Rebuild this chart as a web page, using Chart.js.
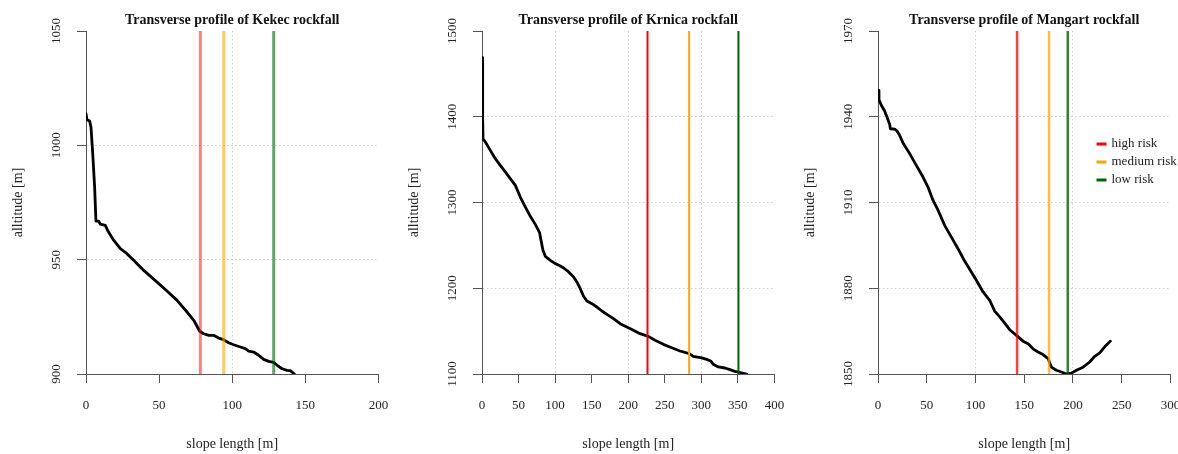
<!DOCTYPE html>
<html>
<head>
<meta charset="utf-8">
<script src="https://cdn.jsdelivr.net/npm/chart.js@4.4.1/dist/chart.umd.min.js"></script>
<style>
html, body { margin: 0; padding: 0; background: #fff; width: 1178px; height: 454px; overflow: hidden; }
.p { position: absolute; top: 0; width: 396px; height: 454px; }
canvas { display: block; }
</style>
</head>
<body>
<div class="p" style="left:0px"><canvas id="c1" width="396" height="454"></canvas></div>
<div class="p" style="left:396px"><canvas id="c2" width="396" height="454"></canvas></div>
<div class="p" style="left:792px"><canvas id="c3" width="396" height="454"></canvas></div>
<script>
// ---------- data ----------
const kekecX = [0, 0.7, 2.5, 3.4, 4.6, 5.9, 6.8, 8.7, 9.8, 13.2, 14.8, 18.9, 23.5, 28, 32.6, 39.5, 48.6, 55.4, 62.3, 69.1, 73.7, 77.8, 80.5, 84, 87.3, 90.8, 94.1, 97.6, 101, 105.6, 109, 111.3, 114.7, 118.1, 121.5, 125, 128.4, 130.7, 134.1, 137.5, 139.8, 142.5];
const kekecY = [1013.8, 1011.2, 1010.6, 1008, 996.4, 981.8, 966.9, 966.8, 965.5, 965, 962.8, 958.5, 954.8, 952.6, 949.7, 945.3, 940.2, 936.3, 932.2, 927.1, 923.5, 918.7, 917.6, 916.9, 916.9, 915.7, 915, 913.7, 912.8, 911.8, 911.1, 910, 909.6, 908.2, 906.4, 905.5, 905.1, 903.8, 902.3, 901.6, 901.5, 900];
const kekecRisk = [78.2, 94.2, 128.4];
const kekecXTicks = [0, 50, 100, 150, 200];
const kekecYTicks = [900, 950, 1000, 1050];

const krnicaX = [0, 0.9, 1.4, 4.6, 11.4, 18.2, 25, 31.9, 38.7, 45.6, 52.4, 59.2, 66.1, 72.9, 78.8, 80.7, 83.4, 86.6, 93.5, 100.3, 107.2, 111.7, 118.5, 125.3, 129.8, 134.4, 138.9, 143.5, 150.3, 157.2, 164, 170.8, 179.9, 189, 198.1, 207.2, 216.2, 227.6, 236.7, 248.1, 259.5, 270.8, 283.6, 289, 300.5, 307.3, 312.8, 316.4, 323.2, 332.3, 339.2, 346, 350.6, 362];
const krnicaY = [1468.9, 1399.7, 1374.4, 1370.6, 1360.8, 1351.1, 1343.3, 1335.6, 1327.8, 1320, 1306.4, 1294.8, 1283.9, 1274.5, 1264.8, 1255.9, 1244.2, 1237.2, 1232.6, 1228.7, 1226, 1223.6, 1219, 1213.1, 1207.3, 1199.5, 1190.6, 1185.1, 1182, 1178.1, 1173.5, 1169.6, 1164.5, 1158.7, 1154.8, 1150.9, 1147, 1143.9, 1139.3, 1134.6, 1130.7, 1126.8, 1123.7, 1120.6, 1118.7, 1117.1, 1115.2, 1111.3, 1108.2, 1107.0, 1105.1, 1103.1, 1102.3, 1100];
const krnicaRisk = [226.4, 283.4, 350.8];
const krnicaXTicks = [0, 50, 100, 150, 200, 250, 300, 350, 400];
const krnicaYTicks = [1100, 1200, 1300, 1400, 1500];

const mangartX = [0, 1, 3.4, 6.8, 9.2, 12, 12.7, 17.1, 19.5, 22.2, 25.7, 32.5, 39.3, 46.2, 51.3, 56.4, 61.6, 68.4, 75.3, 82.1, 88.9, 95.8, 100.9, 107.8, 114.6, 119.7, 124.9, 130, 135.1, 142, 148.8, 154, 159.1, 164.2, 169.3, 174.5, 177.9, 183, 188.2, 193.3, 198.4, 203.6, 210.4, 217.2, 222.4, 227.5, 232.6, 238.4];
const mangartY = [1949.2, 1946, 1944, 1942, 1939.9, 1937.3, 1935.8, 1935.7, 1935, 1933.5, 1930.8, 1927.1, 1923, 1918.9, 1915.4, 1910.8, 1907.3, 1902, 1897.9, 1893.8, 1889.5, 1885.7, 1882.8, 1878.7, 1875.8, 1872, 1870, 1867.8, 1865.5, 1863.5, 1861.5, 1860.6, 1858.8, 1857.7, 1856.8, 1855.4, 1852.4, 1851.3, 1850.7, 1850, 1850.3, 1851.3, 1852.4, 1854.2, 1856.2, 1857.4, 1859.5, 1861.5];
const mangartRisk = [142.7, 175.5, 194.7];
const mangartXTicks = [0, 50, 100, 150, 200, 250, 300];
const mangartYTicks = [1850, 1880, 1910, 1940, 1970];

const riskNames = ['high risk', 'medium risk', 'low risk'];
const legendColors = ['#ff0000', '#ffa500', '#006400'];

// ---------- helpers ----------
const SERIF = '"Liberation Serif", "DejaVu Serif", serif';
const AXIS = '#555';
const GRID = '#cfcfcf';

const decor = {
  id: 'decor',
  afterDraw(chart, args, opts) {
    const ctx = chart.ctx, a = chart.chartArea, ys = chart.scales.y;
    ctx.save();
    ctx.fillStyle = '#111';
    ctx.textAlign = 'center';
    ctx.textBaseline = 'middle';
    ctx.font = 'bold 14px ' + SERIF;
    ctx.fillText(opts.title, (a.left + a.right) / 2, 20);
    ctx.font = '13px ' + SERIF;
    ctx.fillStyle = '#222';
    ys.ticks.forEach(t => {
      const py = ys.getPixelForValue(t.value);
      ctx.save();
      ctx.translate(a.left - 29, py);
      ctx.rotate(-Math.PI / 2);
      ctx.fillText(String(t.value), 0, 0);
      ctx.restore();
    });
    if (opts.legend) {
      const x0 = 304.5, y0 = 144, dy = 18;
      ctx.textAlign = 'left';
      riskNames.forEach((n, i) => {
        const y = y0 + i * dy;
        ctx.strokeStyle = legendColors[i];
        ctx.lineWidth = 3;
        ctx.beginPath();
        ctx.moveTo(x0, y);
        ctx.lineTo(x0 + 10, y);
        ctx.stroke();
        ctx.fillStyle = '#222';
        ctx.fillText(n, x0 + 15, y);
      });
    }
    ctx.restore();
  }
};

function makeChart(id, title, xs, ys, risk, riskColors, riskWidth, xTicks, yTicks, legend) {
  const xMin = xTicks[0], xMax = xTicks[xTicks.length - 1];
  const yMin = yTicks[0], yMax = yTicks[yTicks.length - 1];
  const riskSets = risk.map((v, i) => ({
    label: riskNames[i],
    data: [{x: v, y: yMin}, {x: v, y: yMax}],
    borderColor: riskColors[i],
    borderWidth: riskWidth,
    pointRadius: 0,
    fill: false
  }));
  const profile = {
    label: 'profile',
    data: xs.map((x, i) => ({x: x, y: ys[i]})),
    borderColor: '#000',
    borderWidth: 2.8,
    pointRadius: 0,
    tension: 0,
    fill: false,
    borderJoinStyle: 'round',
    borderCapStyle: 'round'
  };
  return new Chart(document.getElementById(id), {
    type: 'line',
    data: { datasets: riskSets.concat([profile]) },
    options: {
      responsive: false,
      animation: false,
      events: [],
      layout: { padding: { top: 31, right: 17.6, bottom: 0, left: 0 } },
      plugins: {
        legend: { display: false },
        tooltip: { enabled: false },
        decor: { title: title, legend: legend }
      },
      scales: {
        x: {
          type: 'linear',
          min: xMin, max: xMax,
          afterBuildTicks: s => { s.ticks = xTicks.map(v => ({value: v})); },
          afterFit: s => { s.height = 80; s.paddingLeft = 0; s.paddingRight = 0; },
          border: { display: true, color: AXIS, width: 1, dash: [1.5, 2.5] },
          grid: {
            color: c => (c.tick && c.tick.value > xMin && c.tick.value < xMax && c.tick.value % 100 === 0) ? GRID : 'rgba(0,0,0,0)',
            tickColor: AXIS,
            tickLength: 9,
            lineWidth: 1
          },
          ticks: {
            color: '#222',
            font: { family: SERIF, size: 13 },
            padding: 15,
            maxRotation: 0,
            autoSkip: false,
            callback: v => String(v)
          },
          title: {
            display: true,
            text: 'slope length [m]',
            color: '#222',
            font: { family: SERIF, size: 14 },
            padding: { top: 0, bottom: 1 }
          }
        },
        y: {
          type: 'linear',
          min: yMin, max: yMax,
          afterBuildTicks: s => { s.ticks = yTicks.map(v => ({value: v})); },
          afterFit: s => { s.width = 86; s.paddingTop = 0; s.paddingBottom = 0; },
          border: { display: true, color: AXIS, width: 1, dash: [1.5, 2.5] },
          grid: {
            color: c => (c.tick && c.tick.value > yMin && c.tick.value < yMax) ? GRID : 'rgba(0,0,0,0)',
            tickColor: AXIS,
            tickLength: 9,
            lineWidth: 1
          },
          ticks: { display: false },
          title: {
            display: true,
            text: 'alltitude [m]',
            color: '#222',
            font: { family: SERIF, size: 14 },
            padding: { top: 10, bottom: 0 }
          }
        }
      }
    },
    plugins: [decor]
  });
}

makeChart('c1', 'Transverse profile of Kekec rockfall', kekecX, kekecY, kekecRisk,
  ['rgba(255,0,0,0.5)', 'rgba(255,165,0,0.6)', 'rgba(0,100,0,0.6)'], 3, kekecXTicks, kekecYTicks, false);
makeChart('c2', 'Transverse profile of Krnica rockfall', krnicaX, krnicaY, krnicaRisk,
  ['#ff0000', '#ffa500', '#006400'], 2, krnicaXTicks, krnicaYTicks, false);
makeChart('c3', 'Transverse profile of Mangart rockfall', mangartX, mangartY, mangartRisk,
  ['rgba(255,0,0,0.75)', 'rgba(255,165,0,0.75)', 'rgba(0,100,0,0.8)'], 2.5, mangartXTicks, mangartYTicks, true);
</script>
</body>
</html>
